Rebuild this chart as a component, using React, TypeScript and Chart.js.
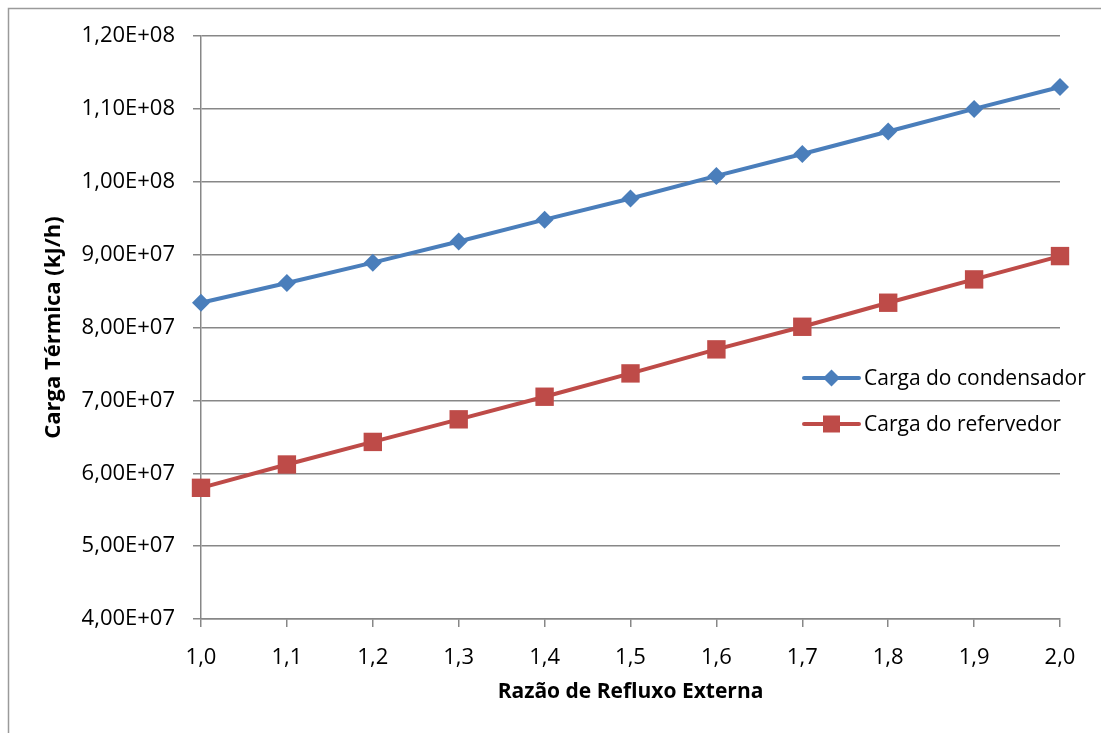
import { useEffect, useRef } from "react";
import { Chart, registerables } from "chart.js";

Chart.register(...registerables);

// Razão de refluxo externa (eixo x)
const refluxRatios = [1.0, 1.1, 1.2, 1.3, 1.4, 1.5, 1.6, 1.7, 1.8, 1.9, 2.0];
// Carga térmica do condensador (kJ/h)
const condenserLoad = [
  8.34e7, 8.61e7, 8.89e7, 9.18e7, 9.48e7, 9.77e7, 1.008e8, 1.038e8, 1.069e8, 1.1e8, 1.13e8,
];
// Carga térmica do refervedor (kJ/h)
const reboilerLoad = [
  5.8e7, 6.12e7, 6.43e7, 6.74e7, 7.05e7, 7.37e7, 7.7e7, 8.01e7, 8.34e7, 8.66e7, 8.98e7,
];
const seriesNames = ["Carga do condensador", "Carga do refervedor"];
const xTitle = "Razão de Refluxo Externa";
const yTitle = "Carga Térmica (kJ/h)";

const FONT = "'Open Sans', Lato, sans-serif";
const BLUE = "#4A7EBB";
const RED = "#BE4B48";
const GRID = "#878787";

function sciLabel(v: number): string {
  const exp = Math.floor(Math.log10(v) + 1e-9);
  const mant = v / Math.pow(10, exp);
  const sign = exp >= 0 ? "+" : "-";
  return mant.toFixed(2).replace(".", ",") + "E" + sign + String(Math.abs(exp)).padStart(2, "0");
}

// Frame, axis titles and the in-plot legend
const decorPlugin = {
  id: "decor",
  afterDraw(chart: any) {
    const ctx = chart.ctx as any;
    const area = chart.chartArea;
    ctx.save();
    // outer frame
    ctx.strokeStyle = "#9a9a9a";
    ctx.lineWidth = 1.5;
    ctx.strokeRect(8.5, 8.5, chart.width + 20, chart.height + 20);

    // axis titles
    ctx.fillStyle = "#000";
    ctx.font = `bold 21px ${FONT}`;
    ctx.textAlign = "center";
    ctx.textBaseline = "middle";
    ctx.fillText(xTitle, (area.left + area.right) / 2, 692);
    ctx.save();
    ctx.translate(54, (area.top + area.bottom) / 2);
    ctx.rotate(-Math.PI / 2);
    ctx.font = `bold 22px ${FONT}`;
    ctx.fillText(yTitle, 0, 0);
    ctx.restore();

    // legend
    const items = [
      { name: seriesNames[0], color: BLUE, shape: "diamond", y: 378 },
      { name: seriesNames[1], color: RED, shape: "square", y: 424 },
    ];
    const x0 = 804;
    const x1 = 859;
    const cx = (x0 + x1) / 2;
    for (const it of items) {
      ctx.strokeStyle = it.color;
      ctx.fillStyle = it.color;
      ctx.lineWidth = 4;
      ctx.lineCap = "round";
      ctx.beginPath();
      ctx.moveTo(x0, it.y);
      ctx.lineTo(x1, it.y);
      ctx.stroke();
      ctx.beginPath();
      if (it.shape === "diamond") {
        const r = 8.5;
        ctx.moveTo(cx - r, it.y);
        ctx.lineTo(cx, it.y - r);
        ctx.lineTo(cx + r, it.y);
        ctx.lineTo(cx, it.y + r);
        ctx.closePath();
      } else {
        const h = 8.5;
        ctx.rect(cx - h, it.y - h, 2 * h, 2 * h);
      }
      ctx.fill();
      ctx.fillStyle = "#000";
      ctx.font = `21px ${FONT}`;
      ctx.textAlign = "left";
      ctx.textBaseline = "middle";
      ctx.fillText(it.name, 864, it.y + 1);
    }
    ctx.restore();
  },
};

export default function App() {
  const canvasRef = useRef<HTMLCanvasElement | null>(null);

  useEffect(() => {
    const canvas = canvasRef.current;
    if (!canvas) return;
    const chart = new Chart(canvas, {
      type: "line",
      data: {
        datasets: [
          {
            label: seriesNames[0],
            data: refluxRatios.map((x, i) => ({ x, y: condenserLoad[i] })),
            borderColor: BLUE,
            backgroundColor: BLUE,
            borderWidth: 4,
            pointStyle: "rectRot",
            pointRadius: 9,
            pointBorderWidth: 0,
            tension: 0,
            clip: false,
          },
          {
            label: seriesNames[1],
            data: refluxRatios.map((x, i) => ({ x, y: reboilerLoad[i] })),
            borderColor: RED,
            backgroundColor: RED,
            borderWidth: 4,
            pointStyle: "rect",
            pointRadius: 13,
            pointBorderWidth: 0,
            tension: 0,
            clip: false,
          },
        ],
      },
      options: {
        responsive: false,
        animation: false,
        devicePixelRatio: 1,
        layout: { padding: { top: 36, right: 41, left: 0, bottom: 0 } },
        plugins: {
          legend: { display: false },
          tooltip: { enabled: false },
        },
        scales: {
          x: {
            type: "linear",
            min: 1,
            max: 2,
            ticks: {
              stepSize: 0.1,
              color: "#000",
              font: { family: FONT, size: 22 },
              padding: 18,
              callback: (v: any) => Number(v).toFixed(1).replace(".", ","),
            },
            grid: {
              drawOnChartArea: false,
              drawTicks: true,
              tickLength: 8,
              color: GRID,
              lineWidth: 1.5,
            },
            border: { display: true, color: GRID, width: 1.5 },
            afterFit: (scale: any) => {
              scale.height = 114;
            },
          },
          y: {
            type: "linear",
            min: 4e7,
            max: 1.2e8,
            ticks: {
              stepSize: 1e7,
              color: "#000",
              font: { family: FONT, size: 22 },
              padding: 18,
              callback: (v: any) => sciLabel(Number(v)),
            },
            grid: {
              drawTicks: true,
              tickLength: 8,
              color: GRID,
              lineWidth: 1.5,
            },
            border: { display: true, color: GRID, width: 1.5 },
            afterFit: (scale: any) => {
              scale.width = 201;
            },
          },
        },
      },
      plugins: [decorPlugin],
    });
    return () => chart.destroy();
  }, []);

  return (
    <div style={{ position: "fixed", left: 0, top: 0, width: 1101, height: 733, background: "#fff" }}>
      <canvas ref={canvasRef} width={1101} height={733} style={{ width: 1101, height: 733 }} />
    </div>
  );
}
